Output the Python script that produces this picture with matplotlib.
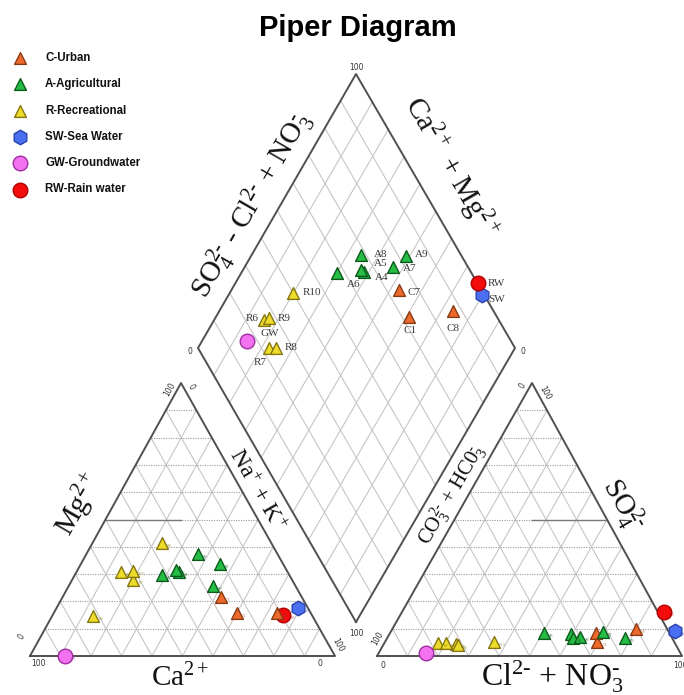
import numpy as np
import matplotlib.pyplot as plt

plt.rcParams['mathtext.fontset'] = 'custom'
plt.rcParams['mathtext.rm'] = 'Liberation Serif'
plt.rcParams['mathtext.it'] = 'Liberation Serif:italic'

# ---- samples (percent of meq/L) ----
# cation triangle: Mg, Na+K   anion triangle: SO4, Cl+NO3
# diamond: Ca+Mg, SO4+Cl+NO3
urban_names = ['C1', 'C7', 'C8']
urban_mg = [15.6, 21.5, 15.9]
urban_nak = [60.0, 51.9, 73.2]
urban_so4 = [5.2, 8.3, 9.8]
urban_cl = [69.6, 67.6, 80.0]
urban_camg = [39.1, 47.2, 26.4]
urban_so4cl = [72.1, 73.9, 87.1]

agri_names = ['A4', 'A5', 'A6', 'A7', 'A8', 'A9']
agri_mg = [30.8, 37.3, 29.7, 33.7, 31.5, 25.6]
agri_nak = [33.6, 36.7, 28.5, 45.6, 32.2, 47.4]
agri_so4 = [8.1, 6.6, 8.3, 8.9, 7.1, 6.7]
agri_cl = [59.5, 60.9, 50.6, 69.7, 63.0, 77.9]
agri_camg = [61.6, 63.0, 70.0, 53.3, 65.8, 51.4]
agri_so4cl = [66.2, 65.5, 57.3, 76.4, 68.3, 82.3]

rec_names = ['R6', 'R7', 'R8', 'R9', 'R10']
rec_mg = [14.7, 27.8, 41.5, 30.9, 31.1]
rec_nak = [13.5, 20.1, 22.6, 14.4, 18.3]
rec_so4 = [4.3, 4.7, 4.7, 4.0, 5.2]
rec_cl = [23.7, 17.7, 20.2, 24.5, 35.7]
rec_camg = [84.4, 77.7, 75.6, 83.0, 80.1]
rec_so4cl = [25.9, 22.4, 24.5, 27.8, 40.1]

sea_names = ['SW']
sea_mg = [17.5]
sea_nak = [79.3]
sea_so4 = [9.3]
sea_cl = [93.0]
sea_camg = [20.0]
sea_so4cl = [99.3]

gw_names = ['GW']
gw_mg = [0.0]
gw_nak = [11.5]
gw_so4 = [1.0]
gw_cl = [15.6]
gw_camg = [86.0]
gw_so4cl = [16.6]

rain_names = ['RW']
rain_mg = [15.0]
rain_nak = [75.6]
rain_so4 = [16.2]
rain_cl = [85.9]
rain_camg = [23.6]
rain_so4cl = [100.0]

# ---- layout (pixels) ----
CAT = np.array([[30, 656], [335, 656], [181, 383]])     # Ca, Na+K, Mg corners
AN = np.array([[377, 656], [682, 656], [532, 383]])     # HCO3, Cl, SO4 corners
D_B, D_L, D_R, D_T = (np.array([356, 622]), np.array([198, 348]),
                      np.array([515, 348]), np.array([356, 74]))

label_off = {
    'A8': (13, 0, 'left'), 'A9': (9, -1, 'left'), 'A5': (13, -6, 'left'),
    'A4': (11, 6, 'left'), 'A7': (10, 2, 'left'), 'A6': (10, 11, 'left'),
    'C7': (9, 2, 'left'), 'C1': (1, 13, 'center'), 'C8': (0, 17, 'center'),
    'RW': (10, 0, 'left'), 'SW': (6, 4, 'left'), 'R10': (9, 0, 'left'),
    'R6': (-5, -1, 'right'), 'R9': (9, 0, 'left'), 'GW': (14, -7, 'left'),
    'R7': (-9, 15, 'center'), 'R8': (9, 0, 'left'),
}


def tri_xy(verts, a, b, c):
    w = np.stack([np.asarray(a, float), np.asarray(b, float),
                  np.asarray(c, float)], axis=-1) / 100.0
    return w @ verts


def cation_xy(mg, nak):
    mg, nak = np.asarray(mg, float), np.asarray(nak, float)
    return tri_xy(CAT, 100 - mg - nak, nak, mg)


def anion_xy(so4, cl):
    so4, cl = np.asarray(so4, float), np.asarray(cl, float)
    return tri_xy(AN, 100 - so4 - cl, cl, so4)


def diamond_xy(camg, so4cl):
    s = np.asarray(camg, float)[:, None] / 100
    t = np.asarray(so4cl, float)[:, None] / 100
    return D_B + s * (D_L - D_B) + t * (D_R - D_B)


fig = plt.figure(figsize=(6.84, 6.95), dpi=100)
ax = fig.add_axes([0, 0, 1, 1])
ax.set_xlim(0, 684)
ax.set_ylim(695, 0)
ax.axis('off')

edge_c = '#505050'
grid_c = '#c6c6c6'


def draw_triangle(verts, dark_half):
    v0, v1, v2 = verts
    for i in range(1, 10):
        f = i / 10
        # horizontal lines (dotted)
        p = (1 - f) * v0 + f * v2
        q = (1 - f) * v1 + f * v2
        ax.plot([p[0], q[0]], [p[1], q[1]], color='#9a9a9a', lw=0.8,
                ls=(0, (1, 1.2)), zorder=1)
        # lines parallel to the left edge
        p = (1 - f) * v0 + f * v1
        q = (1 - f) * v2 + f * v1
        ax.plot([p[0], q[0]], [p[1], q[1]], color=grid_c, lw=0.8, zorder=1)
        # lines parallel to the right edge
        p = (1 - f) * v1 + f * v0
        q = (1 - f) * v2 + f * v0
        ax.plot([p[0], q[0]], [p[1], q[1]], color=grid_c, lw=0.8, zorder=1)
    # darker half of the 50 % line
    p = 0.5 * v0 + 0.5 * v2
    q = 0.5 * v1 + 0.5 * v2
    m = v2[0]
    if dark_half == 'left':
        ax.plot([p[0], m], [p[1], p[1]], color='#7a7a7a', lw=1.0, zorder=1)
    else:
        ax.plot([m, q[0]], [q[1], q[1]], color='#7a7a7a', lw=1.0, zorder=1)
    ax.plot(*np.vstack([verts, verts[:1]]).T, color=edge_c, lw=1.4, zorder=2)


draw_triangle(CAT, 'left')
draw_triangle(AN, 'right')

# diamond grid
for i in range(1, 10):
    f = i / 10
    p = D_B + f * (D_L - D_B)
    q = p + (D_R - D_B)
    ax.plot([p[0], q[0]], [p[1], q[1]], color=grid_c, lw=0.8, zorder=1)
    p = D_B + f * (D_R - D_B)
    q = p + (D_L - D_B)
    ax.plot([p[0], q[0]], [p[1], q[1]], color=grid_c, lw=0.8, zorder=1)
dia = np.array([D_B, D_L, D_T, D_R, D_B])
ax.plot(dia[:, 0], dia[:, 1], color=edge_c, lw=1.4, zorder=2)

# ---- groups ----
groups = [
    # name, marker, face, edge, size, names, mg, nak, so4, cl, camg, so4cl
    ('SW-Sea Water', 'h', '#4a6ff0', '#2a42b0', 110,
     sea_names, sea_mg, sea_nak, sea_so4, sea_cl, sea_camg, sea_so4cl),
    ('RW-Rain water', 'o', '#f20c0c', '#b00000', 110,
     rain_names, rain_mg, rain_nak, rain_so4, rain_cl, rain_camg, rain_so4cl),
    ('C-Urban', '^', '#ee6a2c', '#8a3a12', 72,
     urban_names, urban_mg, urban_nak, urban_so4, urban_cl, urban_camg, urban_so4cl),
    ('A-Agricultural', '^', '#26bd45', '#0b5a1c', 72,
     agri_names, agri_mg, agri_nak, agri_so4, agri_cl, agri_camg, agri_so4cl),
    ('R-Recreational', '^', '#eedc2a', '#857610', 72,
     rec_names, rec_mg, rec_nak, rec_so4, rec_cl, rec_camg, rec_so4cl),
    ('GW-Groundwater', 'o', '#f272f2', '#a02ca0', 110,
     gw_names, gw_mg, gw_nak, gw_so4, gw_cl, gw_camg, gw_so4cl),
]

for k, (lab, mk, fc, ec, sz, names, mg, nak, so4, cl, camg, so4cl) in enumerate(groups):
    z = 3 + k
    for xy in (cation_xy(mg, nak), anion_xy(so4, cl)):
        ax.scatter(xy[:, 0], xy[:, 1], marker=mk, s=sz, facecolor=fc,
                   edgecolor=ec, linewidth=1.0, zorder=z)
        for (x, y), nm in zip(xy, names):
            ax.text(x + 5, y + 3, nm, fontsize=2.5, color=ec, alpha=0.6,
                    va='center', ha='left', zorder=z)
    xy = diamond_xy(camg, so4cl)
    ax.scatter(xy[:, 0], xy[:, 1], marker=mk, s=sz, facecolor=fc,
               edgecolor=ec, linewidth=1.0, zorder=z)
    for (x, y), nm in zip(xy, names):
        dx, dy, ha = label_off[nm]
        ax.text(x + dx, y + dy, nm, fontsize=8, family='Liberation Serif',
                color='#3a3a3a', ha=ha, va='center', zorder=10)

# ---- legend ----
legend_order = ['C-Urban', 'A-Agricultural', 'R-Recreational',
                'SW-Sea Water', 'GW-Groundwater', 'RW-Rain water']
gmap = {g[0]: g for g in groups}
for i, lab in enumerate(legend_order):
    _, mk, fc, ec, sz, *_ = gmap[lab]
    y = 58 + i * 26.3
    ax.scatter([20], [y], marker=mk, s=sz, facecolor=fc, edgecolor=ec,
               linewidth=1.0, zorder=5)
    ax.text(45, y, lab, fontsize=8.3, fontweight='bold', family='Liberation Sans',
            ha='left', va='center', color='#111111')

ax.text(358, 28, 'Piper Diagram', fontsize=21, fontweight='bold',
        family='Liberation Sans', ha='center', va='center', color='black')

# ---- axis titles ----
serif = dict(family='Liberation Serif', color='#111111', ha='center', va='center')
mn = r'\text{-}'
ax.text(252, 205, r'SO$_4^{2%s}$ - Cl$^{2%s}$ + NO$_3^{%s}$' % (mn, mn, mn),
        fontsize=21, rotation=60, **serif)
ax.text(450, 168, r'Ca$^{2+}$ + Mg$^{2+}$', fontsize=21, rotation=-60, **serif)
ax.text(80, 505, r'Mg$^{2+}$', fontsize=21, rotation=60, **serif)
ax.text(256, 490, r'Na$^{+}$ + K$^{+}$', fontsize=17, rotation=-60, **serif)
ax.text(180, 678, r'Ca$^{2+}$', fontsize=21, **serif)
ax.text(452, 495, r'CO$_3^{2%s}$ + HC0$_3^{%s}$' % (mn, mn), fontsize=15,
        rotation=60, **serif)
ax.text(622, 505, r'SO$_4^{2%s}$' % mn, fontsize=21, rotation=-60, **serif)
ax.text(552, 677, r'Cl$^{2%s}$ + NO$_3^{%s}$' % (mn, mn), fontsize=23, **serif)

# ---- tick labels ----
tk = dict(fontsize=5.5, color='#333333', ha='center', va='center')
ax.text(356, 67, '100', **tk)
ax.text(190, 351, '0', **tk)
ax.text(523, 351, '0', **tk)
ax.text(356, 633, '100', **tk)
ax.text(170, 389, '100', rotation=60, **tk)
ax.text(191, 387, '0', rotation=-60, **tk)
ax.text(22, 637, '0', rotation=60, **tk)
ax.text(38, 663, '100', **tk)
ax.text(320, 663, '0', **tk)
ax.text(338, 645, '100', rotation=-60, **tk)
ax.text(523, 386, '0', rotation=60, **tk)
ax.text(545, 393, '100', rotation=-60, **tk)
ax.text(378, 638, '100', rotation=60, **tk)
ax.text(383, 665, '0', **tk)
ax.text(680, 665, '100', **tk)

fig.savefig('out.png', dpi=100)
